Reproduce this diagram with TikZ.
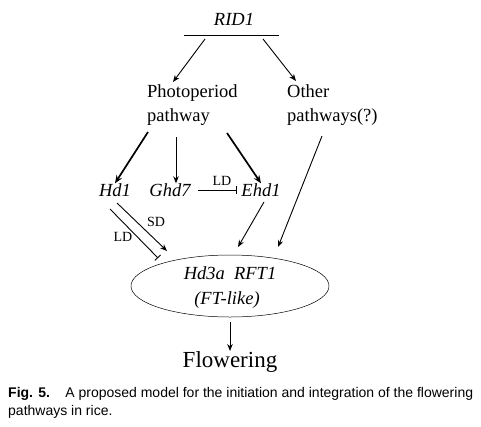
\documentclass[tikz,border=0pt]{standalone}
\usepackage{fontspec}
\setmainfont{Liberation Serif}
\newfontfamily\capfont{Liberation Sans}
\usepackage{tikz}
\usetikzlibrary{arrows.meta}
\usetikzlibrary{shapes.geometric}

\begin{document}
\begin{tikzpicture}[
  x=1pt, y=-1pt,
  gene/.style={
    inner sep=0pt,
    font=\fontsize{18.5}{20}\selectfont\itshape
  },
  path/.style={
    inner sep=0pt,
    align=left,
    font=\fontsize{18.5}{24}\selectfont
  },
  cond/.style={
    inner sep=0pt,
    font=\fontsize{14}{16}\selectfont
  },
  arr/.style={-{Stealth[length=7pt,width=5.5pt]}, line width=0.9pt},
  thickarr/.style={-{Stealth[length=8pt,width=6.5pt]}, line width=1.7pt},
  inhib/.style={-{Bar[width=8pt]}, line width=0.9pt}
]
\useasboundingbox (0,0) rectangle (481,426);

% ===================== RID1 =====================
\node[gene] (rid) at (234,19) {RID1};
\coordinate (barL) at (184,35);
\coordinate (barR) at (279,35);
\draw[line width=1pt] (barL) -- (barR);

\node[path, anchor=north west] (photo) at (147,84) {Photoperiod\\pathway};
\node[path, anchor=north west] (other) at (287,84) {Other\\pathways(?)};

\coordinate (ridL) at (205,39);
\coordinate (ridR) at (263,39);
\coordinate (photoT) at (173,82);
\coordinate (otherT) at (296,81);
\draw[arr] (ridL) -- (photoT);
\draw[arr] (ridR) -- (otherT);

% ===================== photoperiod genes =====================
\node[gene] (hd1)  at (115,190) {Hd1};
\node[gene] (ghd7) at (170,190) {Ghd7};
\node[gene] (ehd1) at (261,190) {Ehd1};

\coordinate (photoL) at (148,132);
\coordinate (photoM) at (176,137);
\coordinate (photoR) at (227,133);
\draw[thickarr] (photoL) -- (hd1.north);
\draw[arr] (photoM) -- (photoM |- ghd7.north);
\draw[thickarr] (photoR) -- (ehd1.north);

\coordinate (ghdE) at (198,190);
\coordinate (ehdW) at (237,190);
\draw[inhib] (ghdE) -- (ehdW);
\node[cond] (ldtop) at (222,181) {LD};

% ===================== FT-like =====================
\node[draw, ellipse, minimum width=198pt, minimum height=62pt, line width=0.5pt, inner sep=0pt] (ft) at (230,286) {};
\node[gene] (hd3a) at (230,273) {Hd3a\ \ RFT1};
\node[gene] (ftl)  at (227,300) {(FT-like)};

\coordinate (hd1A) at (117,203);
\coordinate (hd1B) at (110,209);
\coordinate (sdT)  at (167,251);
\coordinate (ldT)  at (158,258);
\draw[arr] (hd1A) -- (sdT);
\draw[inhib] (hd1B) -- (ldT);
\node[cond] (sd) at (156,222) {SD};
\node[cond] (ld) at (123,237) {LD};

\coordinate (ehdS) at (264,202);
\coordinate (ehdT) at (238,247);
\draw[arr] (ehdS) -- (ehdT);
\coordinate (otherS) at (322,136);
\coordinate (otherE) at (278,247);
\draw[arr] (otherS) -- (otherE);

% ===================== Flowering =====================
\node[inner sep=0pt, font=\fontsize{23}{26}\selectfont] (flow) at (230,362) {Flowering};
\coordinate (ftS) at (230,322);
\coordinate (flowN) at (230,351);
\draw[arr] (ftS) -- (flowN);

% ===================== caption =====================
\node[anchor=west, inner sep=0pt, font=\capfont\fontsize{14}{16}\selectfont] (fig) at (8,394) {\textbf{Fig. 5.}\hspace{1.1em}A proposed model for the initiation and integration of the flowering};
\node[anchor=west, inner sep=0pt, font=\capfont\fontsize{14}{16}\selectfont] (fig2) at (8,412) {pathways in rice.};

\end{tikzpicture}
\end{document}
